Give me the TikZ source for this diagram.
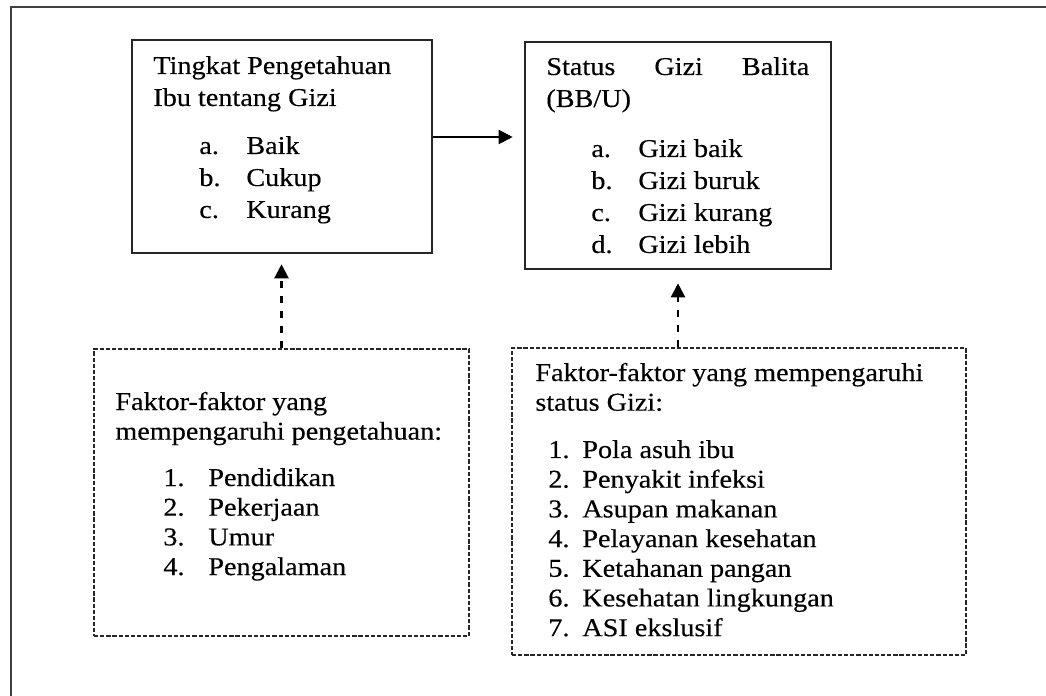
\documentclass[tikz,border=0pt]{standalone}
\usepackage{fontspec}
\setmainfont{Liberation Serif}[FakeStretch=1.1,FakeBold=0.3]
\usetikzlibrary{arrows.meta}

\begin{document}
\begin{tikzpicture}[x=0.02cm,y=-0.02cm,
    solidbox/.style={draw=black!85,line width=1.5pt,inner sep=0pt},
    dashbox/.style={draw=black!85,line width=1.4pt,inner sep=0pt,dash pattern=on 2.4pt off 1.1pt},
    txt/.style={inner sep=0pt,anchor=base west,font={\fontsize{14.6}{18.2}\selectfont}},
    txtb/.style={txt,font={\fontsize{14.6}{16.9}\selectfont}},
    arr/.style={line width=1.1pt,-{Triangle[length=0.28cm,width=0.28cm]}},
    darr/.style={arr,line width=1.3pt,dash pattern=on 0.14cm off 0.16cm}]

    \useasboundingbox (0,0) rectangle (1046,696);
    \draw[line width=1.3pt,black!75] (11,696) -- (11,7) -- (1046,7);

    % kotak utama
    \node[solidbox,minimum width=6cm,minimum height=4.26cm] (pengetahuan) at (282,146.5) {};
    \node[solidbox,minimum width=6.12cm,minimum height=4.54cm] (status) at (678,155.5) {};
    \node[dashbox,minimum width=7.5cm,minimum height=5.74cm] (faktorP) at (281.5,492.5) {};
    \node[dashbox,minimum width=9.08cm,minimum height=6.14cm] (faktorG) at (739,501.5) {};

    % isi kotak
    \node[txt] (pengetahuanJudul) at (153,74) {\begin{tabular}[t]{@{}l@{}}Tingkat Pengetahuan\\Ibu tentang Gizi\end{tabular}};
    \node[txt] (pengetahuanIsi) at (199,154) {\begin{tabular}[t]{@{}p{0.94cm}@{}l@{}}a.&Baik\\b.&Cukup\\c.&Kurang\end{tabular}};

    \node[txt] (statusJudul) at (546,75) {\begin{tabular}[t]{@{}l@{}}\makebox[5.26cm][s]{Status Gizi Balita}\\(BB/U)\end{tabular}};
    \node[txt] (statusIsi) at (591,157) {\begin{tabular}[t]{@{}p{0.94cm}@{}l@{}}a.&Gizi baik\\b.&Gizi buruk\\c.&Gizi kurang\\d.&Gizi lebih\end{tabular}};

    \node[txtb] (faktorPJudul) at (115,410) {\begin{tabular}[t]{@{}l@{}}Faktor-faktor yang\\mempengaruhi pengetahuan:\end{tabular}};
    \node[txtb] (faktorPIsi) at (163,486) {\begin{tabular}[t]{@{}p{0.9cm}@{}l@{}}1.&Pendidikan\\2.&Pekerjaan\\3.&Umur\\4.&Pengalaman\end{tabular}};

    \node[txtb] (faktorGJudul) at (535,381) {\begin{tabular}[t]{@{}l@{}}Faktor-faktor yang mempengaruhi\\status Gizi:\end{tabular}};
    \node[txtb] (faktorGIsi) at (548,458) {\begin{tabular}[t]{@{}p{0.68cm}@{}l@{}}1.&Pola asuh ibu\\2.&Penyakit infeksi\\3.&Asupan makanan\\4.&Pelayanan kesehatan\\5.&Ketahanan pangan\\6.&Kesehatan lingkungan\\7.&ASI ekslusif\end{tabular}};

    % panah
    \path ([yshift=0.19cm]pengetahuan.east) coordinate (panahA);
    \draw[arr,shorten >=0.22cm] (panahA) -- (panahA -| status.west);
    \draw[darr,shorten >=0.2cm] (faktorP.north) -- (faktorP.north |- pengetahuan.south);
    \draw[darr,shorten >=0.26cm] (status.south |- faktorG.north) -- (status.south);

\end{tikzpicture}
\end{document}
